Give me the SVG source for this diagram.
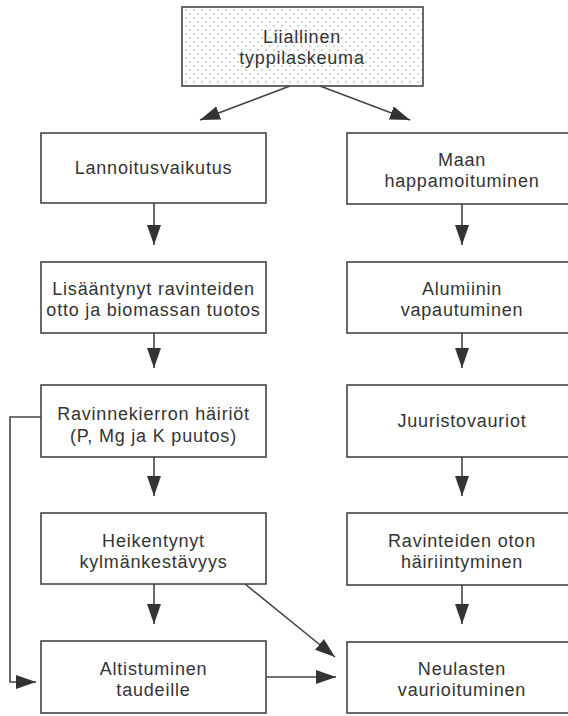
<svg xmlns="http://www.w3.org/2000/svg" width="568" height="716" viewBox="0 0 568 716">
<style>
.box{fill:#fff;stroke:#444;stroke-width:1.6}
.top{fill:url(#dots);stroke:#444;stroke-width:1.6}
.t{font-family:"Liberation Sans",Arial,sans-serif;font-size:18px;letter-spacing:0.8px;fill:#333;text-anchor:middle}
.c{fill:none;stroke:#444;stroke-width:1.6;marker-end:url(#ah)}
</style>
<defs>
<pattern id="dots" width="8" height="8" patternUnits="userSpaceOnUse">
<rect width="8" height="8" fill="#fff"/>
<circle cx="2" cy="2" r="0.7" fill="#888"/>
<circle cx="6" cy="6" r="0.7" fill="#888"/>
</pattern>
<marker id="ah" markerWidth="20" markerHeight="14" refX="20" refY="7" orient="auto" markerUnits="userSpaceOnUse">
<path d="M0,0 L20,7 L0,14 z" fill="#333"/>
</marker>
</defs>
<g id="connectors">
<path class="c" d="M290,86 L200,120"/>
<path class="c" d="M320,86 L410,120"/>
<path class="c" d="M154,203 V245"/>
<path class="c" d="M154,333 V368"/>
<path class="c" d="M154,457 V496"/>
<path class="c" d="M154,584 V624"/>
<path class="c" d="M462,204 V245"/>
<path class="c" d="M462,333 V368"/>
<path class="c" d="M462,457 V496"/>
<path class="c" d="M462,585 V624"/>
<path class="c" d="M41,417 H10 V682 H36"/>
<path class="c" d="M245,584 L335,657"/>
<path class="c" d="M266,677 H336"/>
</g>
<g id="n0"><rect class="top" x="182" y="7" width="241" height="79"/><text class="t" x="302" y="43">Liiallinen</text><text class="t" x="302" y="64">typpilaskeuma</text></g>
<g id="n1"><rect class="box" x="41" y="133" width="225" height="70"/><text class="t" x="153.5" y="174">Lannoitusvaikutus</text></g>
<g id="n2"><rect class="box" x="41" y="262" width="225" height="71"/><text class="t" x="153.5" y="295">Lisääntynyt ravinteiden</text><text class="t" x="153.5" y="316">otto ja biomassan tuotos</text></g>
<g id="n3"><rect class="box" x="41" y="385" width="225" height="72"/><text class="t" x="153.5" y="420">Ravinnekierron häiriöt</text><text class="t" x="153.5" y="442">(P, Mg ja K puutos)</text></g>
<g id="n4"><rect class="box" x="41" y="513" width="225" height="71"/><text class="t" x="153.5" y="547">Heikentynyt</text><text class="t" x="153.5" y="568">kylmänkestävyys</text></g>
<g id="n5"><rect class="box" x="41" y="641" width="225" height="72"/><text class="t" x="153.5" y="675">Altistuminen</text><text class="t" x="153.5" y="696">taudeille</text></g>
<g id="n6"><rect class="box" x="347" y="133" width="230" height="71"/><text class="t" x="462" y="166">Maan</text><text class="t" x="462" y="187">happamoituminen</text></g>
<g id="n7"><rect class="box" x="347" y="262" width="230" height="71"/><text class="t" x="462" y="295">Alumiinin</text><text class="t" x="462" y="316">vapautuminen</text></g>
<g id="n8"><rect class="box" x="347" y="385" width="230" height="72"/><text class="t" x="462" y="427">Juuristovauriot</text></g>
<g id="n9"><rect class="box" x="347" y="513" width="230" height="72"/><text class="t" x="462" y="547">Ravinteiden oton</text><text class="t" x="462" y="568">häiriintyminen</text></g>
<g id="n10"><rect class="box" x="347" y="642" width="230" height="71"/><text class="t" x="462" y="675">Neulasten</text><text class="t" x="462" y="696">vaurioituminen</text></g>
</svg>
